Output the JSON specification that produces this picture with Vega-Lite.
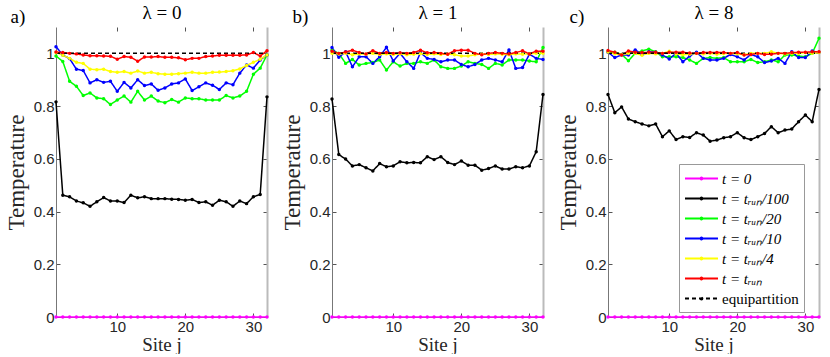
{
  "$schema": "https://vega.github.io/schema/vega-lite/v6.json",
  "background": "white",
  "padding": {"left": 5, "top": 3, "right": 5, "bottom": 0},
  "bounds": "flush",
  "spacing": 65,
  "config": {
    "view": {"stroke": null},
    "axis": {
      "grid": false,
      "labelFont": "Liberation Sans",
      "labelFontSize": 15,
      "labelColor": "#262626",
      "titleFont": "Liberation Serif",
      "titleFontSize": 23,
      "titleFontWeight": "normal",
      "titleColor": "#262626",
      "domainColor": "#777777",
      "tickColor": "#555555",
      "tickSize": -4,
      "labelPadding": 6
    }
  },
  "resolve": {"legend": {"color": "independent", "strokeDash": "independent"}},
  "data": {"values": [
    {"p":"a","j":1,"t0":0,"t100":0.816,"t20":0.99,"t10":1.025,"t4":1.003,"t1":1.005,"eq":1},
    {"p":"a","j":2,"t0":0,"t100":0.462,"t20":0.969,"t10":0.994,"t4":0.993,"t1":1.003,"eq":1},
    {"p":"a","j":3,"t0":0,"t100":0.456,"t20":0.894,"t10":0.98,"t4":0.981,"t1":1.0,"eq":1},
    {"p":"a","j":4,"t0":0,"t100":0.44,"t20":0.875,"t10":0.94,"t4":0.966,"t1":0.998,"eq":1},
    {"p":"a","j":5,"t0":0,"t100":0.433,"t20":0.84,"t10":0.935,"t4":0.962,"t1":0.994,"eq":1},
    {"p":"a","j":6,"t0":0,"t100":0.42,"t20":0.85,"t10":0.888,"t4":0.94,"t1":0.991,"eq":1},
    {"p":"a","j":7,"t0":0,"t100":0.437,"t20":0.831,"t10":0.9,"t4":0.938,"t1":0.991,"eq":1},
    {"p":"a","j":8,"t0":0,"t100":0.453,"t20":0.828,"t10":0.89,"t4":0.94,"t1":0.99,"eq":1},
    {"p":"a","j":9,"t0":0,"t100":0.44,"t20":0.806,"t10":0.894,"t4":0.931,"t1":0.989,"eq":1},
    {"p":"a","j":10,"t0":0,"t100":0.44,"t20":0.823,"t10":0.856,"t4":0.928,"t1":0.978,"eq":1},
    {"p":"a","j":11,"t0":0,"t100":0.434,"t20":0.838,"t10":0.89,"t4":0.931,"t1":0.988,"eq":1},
    {"p":"a","j":12,"t0":0,"t100":0.462,"t20":0.815,"t10":0.869,"t4":0.925,"t1":0.985,"eq":1},
    {"p":"a","j":13,"t0":0,"t100":0.452,"t20":0.856,"t10":0.9,"t4":0.933,"t1":0.97,"eq":1},
    {"p":"a","j":14,"t0":0,"t100":0.456,"t20":0.823,"t10":0.878,"t4":0.925,"t1":0.986,"eq":1},
    {"p":"a","j":15,"t0":0,"t100":0.449,"t20":0.838,"t10":0.884,"t4":0.928,"t1":0.986,"eq":1},
    {"p":"a","j":16,"t0":0,"t100":0.449,"t20":0.819,"t10":0.86,"t4":0.923,"t1":0.988,"eq":1},
    {"p":"a","j":17,"t0":0,"t100":0.449,"t20":0.813,"t10":0.869,"t4":0.921,"t1":0.985,"eq":1},
    {"p":"a","j":18,"t0":0,"t100":0.447,"t20":0.825,"t10":0.884,"t4":0.921,"t1":0.985,"eq":1},
    {"p":"a","j":19,"t0":0,"t100":0.446,"t20":0.815,"t10":0.888,"t4":0.923,"t1":0.983,"eq":1},
    {"p":"a","j":20,"t0":0,"t100":0.443,"t20":0.831,"t10":0.903,"t4":0.925,"t1":0.976,"eq":1},
    {"p":"a","j":21,"t0":0,"t100":0.446,"t20":0.828,"t10":0.859,"t4":0.928,"t1":0.981,"eq":1},
    {"p":"a","j":22,"t0":0,"t100":0.434,"t20":0.828,"t10":0.873,"t4":0.925,"t1":0.981,"eq":1},
    {"p":"a","j":23,"t0":0,"t100":0.437,"t20":0.823,"t10":0.888,"t4":0.925,"t1":0.988,"eq":1},
    {"p":"a","j":24,"t0":0,"t100":0.424,"t20":0.823,"t10":0.879,"t4":0.928,"t1":0.99,"eq":1},
    {"p":"a","j":25,"t0":0,"t100":0.443,"t20":0.823,"t10":0.863,"t4":0.929,"t1":0.993,"eq":1},
    {"p":"a","j":26,"t0":0,"t100":0.437,"t20":0.84,"t10":0.888,"t4":0.931,"t1":0.993,"eq":1},
    {"p":"a","j":27,"t0":0,"t100":0.42,"t20":0.831,"t10":0.881,"t4":0.934,"t1":0.993,"eq":1},
    {"p":"a","j":28,"t0":0,"t100":0.44,"t20":0.838,"t10":0.925,"t4":0.941,"t1":0.993,"eq":1},
    {"p":"a","j":29,"t0":0,"t100":0.43,"t20":0.856,"t10":0.956,"t4":0.954,"t1":0.994,"eq":1},
    {"p":"a","j":30,"t0":0,"t100":0.456,"t20":0.921,"t10":0.944,"t4":0.966,"t1":1.003,"eq":1},
    {"p":"a","j":31,"t0":0,"t100":0.465,"t20":0.944,"t10":0.975,"t4":0.978,"t1":0.99,"eq":1},
    {"p":"a","j":32,"t0":0,"t100":0.835,"t20":0.994,"t10":0.994,"t4":0.994,"t1":1.01,"eq":1},
    {"p":"b","j":1,"t0":0,"t100":0.827,"t20":1.013,"t10":1.022,"t4":1.0,"t1":1.008,"eq":1},
    {"p":"b","j":2,"t0":0,"t100":0.616,"t20":1.0,"t10":0.985,"t4":0.998,"t1":1.0,"eq":1},
    {"p":"b","j":3,"t0":0,"t100":0.599,"t20":0.962,"t10":1.006,"t4":1.0,"t1":1.005,"eq":1},
    {"p":"b","j":4,"t0":0,"t100":0.573,"t20":0.977,"t10":0.949,"t4":0.995,"t1":1.012,"eq":1},
    {"p":"b","j":5,"t0":0,"t100":0.578,"t20":0.956,"t10":0.987,"t4":0.998,"t1":1.003,"eq":1},
    {"p":"b","j":6,"t0":0,"t100":0.566,"t20":0.962,"t10":0.987,"t4":0.997,"t1":0.998,"eq":1},
    {"p":"b","j":7,"t0":0,"t100":0.554,"t20":0.965,"t10":0.962,"t4":1.0,"t1":1.01,"eq":1},
    {"p":"b","j":8,"t0":0,"t100":0.582,"t20":0.975,"t10":0.987,"t4":0.996,"t1":1.0,"eq":1},
    {"p":"b","j":9,"t0":0,"t100":0.57,"t20":0.937,"t10":1.023,"t4":0.998,"t1":1.003,"eq":1},
    {"p":"b","j":10,"t0":0,"t100":0.573,"t20":0.968,"t10":0.971,"t4":0.996,"t1":1.0,"eq":1},
    {"p":"b","j":11,"t0":0,"t100":0.589,"t20":0.952,"t10":1.0,"t4":0.998,"t1":1.002,"eq":1},
    {"p":"b","j":12,"t0":0,"t100":0.585,"t20":0.962,"t10":0.968,"t4":0.995,"t1":1.0,"eq":1},
    {"p":"b","j":13,"t0":0,"t100":0.586,"t20":0.962,"t10":0.943,"t4":0.997,"t1":1.003,"eq":1},
    {"p":"b","j":14,"t0":0,"t100":0.585,"t20":0.968,"t10":1.003,"t4":0.999,"t1":1.012,"eq":1},
    {"p":"b","j":15,"t0":0,"t100":0.608,"t20":0.962,"t10":0.981,"t4":0.996,"t1":1.002,"eq":1},
    {"p":"b","j":16,"t0":0,"t100":0.597,"t20":0.975,"t10":0.977,"t4":0.998,"t1":1.003,"eq":1},
    {"p":"b","j":17,"t0":0,"t100":0.608,"t20":0.949,"t10":0.968,"t4":0.996,"t1":1.0,"eq":1},
    {"p":"b","j":18,"t0":0,"t100":0.586,"t20":0.943,"t10":0.975,"t4":0.997,"t1":0.997,"eq":1},
    {"p":"b","j":19,"t0":0,"t100":0.578,"t20":0.943,"t10":0.975,"t4":0.995,"t1":1.01,"eq":1},
    {"p":"b","j":20,"t0":0,"t100":0.592,"t20":0.952,"t10":0.958,"t4":0.99,"t1":1.012,"eq":1},
    {"p":"b","j":21,"t0":0,"t100":0.576,"t20":0.968,"t10":0.949,"t4":0.99,"t1":1.012,"eq":1},
    {"p":"b","j":22,"t0":0,"t100":0.576,"t20":0.962,"t10":0.958,"t4":0.995,"t1":1.0,"eq":1},
    {"p":"b","j":23,"t0":0,"t100":0.557,"t20":0.958,"t10":0.975,"t4":0.997,"t1":0.995,"eq":1},
    {"p":"b","j":24,"t0":0,"t100":0.563,"t20":0.943,"t10":0.981,"t4":0.996,"t1":1.0,"eq":1},
    {"p":"b","j":25,"t0":0,"t100":0.573,"t20":0.962,"t10":0.975,"t4":0.998,"t1":1.003,"eq":1},
    {"p":"b","j":26,"t0":0,"t100":0.561,"t20":0.956,"t10":0.968,"t4":0.997,"t1":1.0,"eq":1},
    {"p":"b","j":27,"t0":0,"t100":0.561,"t20":0.975,"t10":1.013,"t4":0.995,"t1":0.998,"eq":1},
    {"p":"b","j":28,"t0":0,"t100":0.57,"t20":0.975,"t10":0.943,"t4":0.998,"t1":1.003,"eq":1},
    {"p":"b","j":29,"t0":0,"t100":0.566,"t20":0.975,"t10":0.946,"t4":0.997,"t1":1.01,"eq":1},
    {"p":"b","j":30,"t0":0,"t100":0.573,"t20":0.971,"t10":0.997,"t4":0.998,"t1":0.998,"eq":1},
    {"p":"b","j":31,"t0":0,"t100":0.627,"t20":0.968,"t10":0.981,"t4":1.0,"t1":1.008,"eq":1},
    {"p":"b","j":32,"t0":0,"t100":0.844,"t20":1.022,"t10":0.977,"t4":1.0,"t1":1.008,"eq":1},
    {"p":"c","j":1,"t0":0,"t100":0.844,"t20":1.006,"t10":1.004,"t4":1.005,"t1":1.011,"eq":1},
    {"p":"c","j":2,"t0":0,"t100":0.775,"t20":1.004,"t10":0.984,"t4":0.998,"t1":1.004,"eq":1},
    {"p":"c","j":3,"t0":0,"t100":0.797,"t20":0.996,"t10":0.994,"t4":0.995,"t1":0.994,"eq":1},
    {"p":"c","j":4,"t0":0,"t100":0.751,"t20":0.972,"t10":0.994,"t4":1.0,"t1":1.009,"eq":1},
    {"p":"c","j":5,"t0":0,"t100":0.741,"t20":1.0,"t10":1.013,"t4":1.0,"t1":1.004,"eq":1},
    {"p":"c","j":6,"t0":0,"t100":0.732,"t20":1.009,"t10":0.996,"t4":0.993,"t1":1.003,"eq":1},
    {"p":"c","j":7,"t0":0,"t100":0.725,"t20":1.016,"t10":1.006,"t4":1.0,"t1":1.004,"eq":1},
    {"p":"c","j":8,"t0":0,"t100":0.732,"t20":1.006,"t10":1.004,"t4":0.998,"t1":1.004,"eq":1},
    {"p":"c","j":9,"t0":0,"t100":0.684,"t20":0.987,"t10":0.994,"t4":1.0,"t1":1.0,"eq":1},
    {"p":"c","j":10,"t0":0,"t100":0.706,"t20":0.987,"t10":0.979,"t4":1.008,"t1":1.004,"eq":1},
    {"p":"c","j":11,"t0":0,"t100":0.673,"t20":0.987,"t10":1.0,"t4":0.998,"t1":1.004,"eq":1},
    {"p":"c","j":12,"t0":0,"t100":0.684,"t20":0.984,"t10":0.968,"t4":0.995,"t1":1.004,"eq":1},
    {"p":"c","j":13,"t0":0,"t100":0.681,"t20":0.975,"t10":0.99,"t4":0.997,"t1":1.001,"eq":1},
    {"p":"c","j":14,"t0":0,"t100":0.699,"t20":0.962,"t10":1.004,"t4":1.0,"t1":1.0,"eq":1},
    {"p":"c","j":15,"t0":0,"t100":0.69,"t20":0.981,"t10":0.981,"t4":0.998,"t1":1.003,"eq":1},
    {"p":"c","j":16,"t0":0,"t100":0.667,"t20":0.984,"t10":0.975,"t4":1.0,"t1":1.003,"eq":1},
    {"p":"c","j":17,"t0":0,"t100":0.671,"t20":0.981,"t10":0.975,"t4":0.997,"t1":1.003,"eq":1},
    {"p":"c","j":18,"t0":0,"t100":0.68,"t20":0.984,"t10":0.981,"t4":0.999,"t1":1.003,"eq":1},
    {"p":"c","j":19,"t0":0,"t100":0.684,"t20":0.968,"t10":0.996,"t4":1.0,"t1":1.0,"eq":1},
    {"p":"c","j":20,"t0":0,"t100":0.699,"t20":0.968,"t10":0.987,"t4":0.998,"t1":1.003,"eq":1},
    {"p":"c","j":21,"t0":0,"t100":0.68,"t20":0.968,"t10":0.975,"t4":0.995,"t1":0.994,"eq":1},
    {"p":"c","j":22,"t0":0,"t100":0.673,"t20":0.977,"t10":0.996,"t4":1.0,"t1":0.996,"eq":1},
    {"p":"c","j":23,"t0":0,"t100":0.684,"t20":0.965,"t10":0.987,"t4":1.0,"t1":1.0,"eq":1},
    {"p":"c","j":24,"t0":0,"t100":0.696,"t20":0.968,"t10":0.965,"t4":1.0,"t1":0.996,"eq":1},
    {"p":"c","j":25,"t0":0,"t100":0.722,"t20":0.975,"t10":0.971,"t4":1.006,"t1":0.997,"eq":1},
    {"p":"c","j":26,"t0":0,"t100":0.699,"t20":0.968,"t10":0.981,"t4":1.0,"t1":1.0,"eq":1},
    {"p":"c","j":27,"t0":0,"t100":0.709,"t20":0.994,"t10":0.962,"t4":0.998,"t1":1.0,"eq":1},
    {"p":"c","j":28,"t0":0,"t100":0.713,"t20":0.994,"t10":1.006,"t4":1.0,"t1":1.003,"eq":1},
    {"p":"c","j":29,"t0":0,"t100":0.741,"t20":0.99,"t10":0.984,"t4":1.0,"t1":1.004,"eq":1},
    {"p":"c","j":30,"t0":0,"t100":0.766,"t20":0.987,"t10":0.984,"t4":1.003,"t1":1.004,"eq":1},
    {"p":"c","j":31,"t0":0,"t100":0.741,"t20":1.0,"t10":1.009,"t4":1.0,"t1":1.006,"eq":1},
    {"p":"c","j":32,"t0":0,"t100":0.863,"t20":1.057,"t10":1.004,"t4":1.003,"t1":1.006,"eq":1}
  ]},
  "transform": [{"fold": ["t0", "t100", "t20", "t10", "t4", "t1", "eq"], "as": ["s", "T"]}],
  "hconcat": [
    {
      "width": 211, "height": 290,
      "transform": [{"filter": "datum.p == 'a'"}],
      "layer": [
        {
          "mark": {"type": "line", "strokeWidth": 1.5},
          "encoding": {
            "x": {"field": "j", "type": "quantitative", "scale": {"domain": [1, 32], "nice": false, "zero": false},
                  "axis": {"orient": "bottom", "values": [10, 20, 30], "title": "Site j", "titleFontSize": 19, "titlePadding": 1}},
            "y": {"field": "T", "type": "quantitative", "scale": {"domain": [0, 1.1], "nice": false},
                  "axis": {"orient": "left", "values": [0, 0.2, 0.4, 0.6, 0.8, 1], "format": ".1~f", "title": "Temperature", "titlePadding": 5}},
            "color": {"field": "s", "type": "nominal", "legend": null,
                      "scale": {"domain": ["t0", "t100", "t20", "t10", "t4", "t1", "eq"], "range": ["#ff00ff", "#000000", "#00ff00", "#0000ff", "#ffff00", "#ff0000", "#000000"]}},
            "strokeDash": {"field": "s", "type": "nominal", "legend": null,
                      "scale": {"domain": ["t0", "t100", "t20", "t10", "t4", "t1", "eq"], "range": [[1, 0], [1, 0], [1, 0], [1, 0], [1, 0], [1, 0], [4, 3]]}}
          }
        },
        {
          "transform": [{"filter": "datum.s != 'eq'"}],
          "mark": {"type": "point", "filled": true, "size": 12, "opacity": 1},
          "encoding": {
            "x": {"field": "j", "type": "quantitative",
                  "axis": {"orient": "top", "values": [10, 20, 30], "labels": false, "domain": false, "title": "λ = 0", "titleX": 105.5, "titleY": -9, "titleAlign": "center", "titleBaseline": "alphabetic", "titleFontSize": 19, "titleColor": "#000000"}},
            "y": {"field": "T", "type": "quantitative",
                  "axis": {"orient": "right", "values": [0, 0.2, 0.4, 0.6, 0.8, 1], "labels": false, "domainColor": "#bbbbbb", "domainWidth": 2, "title": "a)", "titleAngle": 0, "titleX": -257, "titleY": -5, "titleAlign": "left", "titleBaseline": "alphabetic", "titleFontSize": 19, "titleColor": "#000000"}},
            "color": {"field": "s", "type": "nominal", "legend": null}
          }
        }
      ]
    },
    {
      "width": 211, "height": 290,
      "transform": [{"filter": "datum.p == 'b'"}],
      "layer": [
        {
          "mark": {"type": "line", "strokeWidth": 1.5},
          "encoding": {
            "x": {"field": "j", "type": "quantitative", "scale": {"domain": [1, 32], "nice": false, "zero": false},
                  "axis": {"orient": "bottom", "values": [10, 20, 30], "title": "Site j", "titleFontSize": 19, "titlePadding": 1}},
            "y": {"field": "T", "type": "quantitative", "scale": {"domain": [0, 1.1], "nice": false},
                  "axis": {"orient": "left", "values": [0, 0.2, 0.4, 0.6, 0.8, 1], "format": ".1~f", "title": "Temperature", "titlePadding": 5}},
            "color": {"field": "s", "type": "nominal", "legend": null,
                      "scale": {"domain": ["t0", "t100", "t20", "t10", "t4", "t1", "eq"], "range": ["#ff00ff", "#000000", "#00ff00", "#0000ff", "#ffff00", "#ff0000", "#000000"]}},
            "strokeDash": {"field": "s", "type": "nominal", "legend": null,
                      "scale": {"domain": ["t0", "t100", "t20", "t10", "t4", "t1", "eq"], "range": [[1, 0], [1, 0], [1, 0], [1, 0], [1, 0], [1, 0], [4, 3]]}}
          }
        },
        {
          "transform": [{"filter": "datum.s != 'eq'"}],
          "mark": {"type": "point", "filled": true, "size": 12, "opacity": 1},
          "encoding": {
            "x": {"field": "j", "type": "quantitative",
                  "axis": {"orient": "top", "values": [10, 20, 30], "labels": false, "domain": false, "title": "λ = 1", "titleX": 105.5, "titleY": -9, "titleAlign": "center", "titleBaseline": "alphabetic", "titleFontSize": 19, "titleColor": "#000000"}},
            "y": {"field": "T", "type": "quantitative",
                  "axis": {"orient": "right", "values": [0, 0.2, 0.4, 0.6, 0.8, 1], "labels": false, "domainColor": "#bbbbbb", "domainWidth": 2, "title": "b)", "titleAngle": 0, "titleX": -251, "titleY": -5, "titleAlign": "left", "titleBaseline": "alphabetic", "titleFontSize": 19, "titleColor": "#000000"}},
            "color": {"field": "s", "type": "nominal", "legend": null}
          }
        }
      ]
    },
    {
      "width": 211, "height": 290,
      "transform": [{"filter": "datum.p == 'c'"}],
      "layer": [
        {
          "mark": {"type": "line", "strokeWidth": 1.5},
          "encoding": {
            "x": {"field": "j", "type": "quantitative", "scale": {"domain": [1, 32], "nice": false, "zero": false},
                  "axis": {"orient": "bottom", "values": [10, 20, 30], "title": "Site j", "titleFontSize": 19, "titlePadding": 1}},
            "y": {"field": "T", "type": "quantitative", "scale": {"domain": [0, 1.1], "nice": false},
                  "axis": {"orient": "left", "values": [0, 0.2, 0.4, 0.6, 0.8, 1], "format": ".1~f", "title": "Temperature", "titlePadding": 5}},
            "color": {"field": "s", "type": "nominal",
                      "scale": {"domain": ["t0", "t100", "t20", "t10", "t4", "t1", "eq"], "range": ["#ff00ff", "#000000", "#00ff00", "#0000ff", "#ffff00", "#ff0000", "#000000"]},
                      "legend": {
                        "orient": "none", "legendX": 71, "legendY": 137, "title": null,
                        "symbolType": "M-1,0L2.88,0M0.82,0A0.12,0.12,0,1,0,1.06,0A0.12,0.12,0,1,0,0.82,0",
                        "symbolSize": 289, "symbolStrokeWidth": 1.8,
                        "labelFont": "Liberation Serif", "labelFontSize": 15, "labelFontStyle": "italic", "labelColor": "#000000",
                        "labelOffset": 19,
                        "labelExpr": "datum.label == 't0' ? 't = 0' : datum.label == 'eq' ? 'equipartition' : datum.label == 't1' ? 't = tᵣᵤₙ' : 't = tᵣᵤₙ/' + substring(datum.label, 1)",
                        "strokeColor": "#999999", "fillColor": "#ffffff", "padding": 5, "rowPadding": 2,
                        "encode": {"labels": {"update": {"fontStyle": {"signal": "datum.value == 'eq' ? 'normal' : 'italic'"}}}}
                      }},
            "strokeDash": {"field": "s", "type": "nominal",
                      "scale": {"domain": ["t0", "t100", "t20", "t10", "t4", "t1", "eq"], "range": [[1, 0], [1, 0], [1, 0], [1, 0], [1, 0], [1, 0], [4, 3]]}}
          }
        },
        {
          "transform": [{"filter": "datum.s != 'eq'"}],
          "mark": {"type": "point", "filled": true, "size": 12, "opacity": 1},
          "encoding": {
            "x": {"field": "j", "type": "quantitative",
                  "axis": {"orient": "top", "values": [10, 20, 30], "labels": false, "domain": false, "title": "λ = 8", "titleX": 105.5, "titleY": -9, "titleAlign": "center", "titleBaseline": "alphabetic", "titleFontSize": 19, "titleColor": "#000000"}},
            "y": {"field": "T", "type": "quantitative",
                  "axis": {"orient": "right", "values": [0, 0.2, 0.4, 0.6, 0.8, 1], "labels": false, "domainColor": "#bbbbbb", "domainWidth": 2, "title": "c)", "titleAngle": 0, "titleX": -250, "titleY": -5, "titleAlign": "left", "titleBaseline": "alphabetic", "titleFontSize": 19, "titleColor": "#000000"}},
            "color": {"field": "s", "type": "nominal"}
          }
        }
      ]
    }
  ]
}
